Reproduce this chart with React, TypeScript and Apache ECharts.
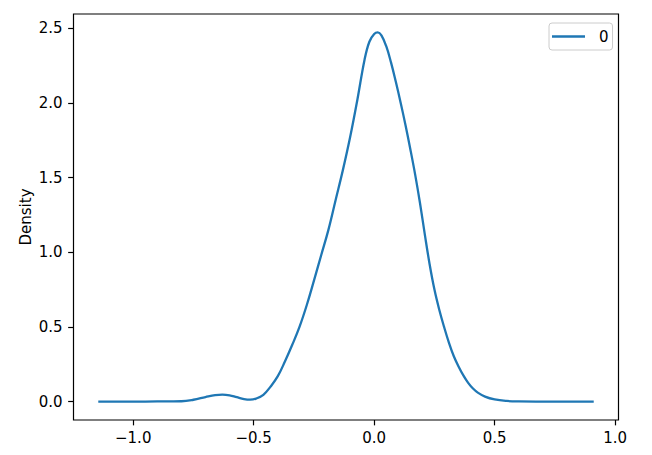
import React, { useEffect, useRef } from "react";
import * as echarts from "echarts";

const seriesName = "0";
const xValues = [
  -1.145, -1.0, -0.9, -0.8, -0.75, -0.7, -0.66, -0.63, -0.6, -0.57, -0.54, -0.515, -0.49, -0.46,
  -0.43, -0.4, -0.37, -0.34, -0.31, -0.28, -0.25, -0.22, -0.19, -0.16, -0.13, -0.1, -0.07, -0.04,
  -0.02, 0.0, 0.015, 0.03, 0.05, 0.07, 0.09, 0.11, 0.13, 0.15, 0.17, 0.19, 0.21, 0.23, 0.25, 0.27,
  0.29, 0.31, 0.33, 0.35, 0.37, 0.39, 0.41, 0.43, 0.46, 0.5, 0.55, 0.6, 0.7, 0.8, 0.911,
];
const densityValues = [
  0, 0, 0.0005, 0.002, 0.012, 0.03, 0.043, 0.047, 0.042, 0.029, 0.017, 0.013, 0.02, 0.045,
  0.1, 0.17, 0.27, 0.38, 0.5, 0.645, 0.81, 0.98, 1.15, 1.35, 1.55, 1.77, 2.02, 2.29,
  2.41, 2.462, 2.472, 2.452, 2.38, 2.27, 2.14, 2.0, 1.85, 1.69, 1.52, 1.33, 1.12, 0.92, 0.75, 0.615,
  0.5, 0.395, 0.305, 0.235, 0.175, 0.125, 0.087, 0.06, 0.033, 0.014, 0.004, 0.001, 0, 0, 0,
];
const xTicks = [-1.0, -0.5, 0.0, 0.5, 1.0];
const yTicks = [0.0, 0.5, 1.0, 1.5, 2.0, 2.5];

const fmt = (v: number) => {
  const s = Math.abs(v).toFixed(1);
  return v < -1e-9 ? "\u2212" + s : s;
};

export default function App() {
  const ref = useRef<HTMLDivElement>(null);
  useEffect(() => {
    if (!ref.current) return;
    const chart = echarts.init(ref.current, null, { renderer: "svg" });
    const font = "DejaVu Sans";
    const tickStyle = { color: "#000", width: 1.2 };
    chart.setOption({
      animation: false,
      grid: {
        left: 73.5,
        right: 33.5,
        top: 14,
        bottom: 35,
        show: true,
        borderColor: "#000",
        borderWidth: 1.2,
        backgroundColor: "#fff",
      },
      legend: {
        left: 549,
        top: 23,
        orient: "horizontal",
        padding: [6, 4, 6, 3],
        itemWidth: 33,
        itemHeight: 2.3,
        icon: "rect",
        itemStyle: { color: "#1f77b4", borderWidth: 0 },
        backgroundColor: "#fff",
        borderColor: "#cccccc",
        borderWidth: 1,
        borderRadius: 3,
        textStyle: { fontFamily: font, fontSize: 15, color: "#000", padding: [0, 0, 0, 9] },
        data: [seriesName],
      },
      xAxis: {
        type: "value",
        min: -1.2478,
        max: 1.0138,
        splitLine: { show: false },
        axisLine: { show: false, onZero: false },
        axisTick: { show: true, length: 5.35, inside: false, customValues: xTicks, lineStyle: tickStyle },
        axisLabel: {
          customValues: xTicks,
          formatter: (v: number) => fmt(v),
          fontFamily: font,
          fontSize: 15,
          color: "#000",
          margin: 10,
        },
      },
      yAxis: {
        type: "value",
        min: -0.1236,
        max: 2.5957,
        name: "Density",
        nameLocation: "middle",
        nameGap: 40.5,
        nameMoveOverlap: false,
        nameTextStyle: { fontFamily: font, fontSize: 15, color: "#000" },
        splitLine: { show: false },
        axisLine: { show: false, onZero: false },
        axisTick: { show: true, length: 5.35, inside: false, customValues: yTicks, lineStyle: tickStyle },
        axisLabel: {
          customValues: yTicks,
          formatter: (v: number) => fmt(v),
          fontFamily: font,
          fontSize: 15,
          color: "#000",
          margin: 11,
        },
      },
      series: [
        {
          name: seriesName,
          type: "line",
          symbol: "none",
          smooth: 0.4,
          lineStyle: { color: "#1f77b4", width: 2.3 },
          itemStyle: { color: "#1f77b4" },
          data: xValues.map((x, i) => [x, densityValues[i]]),
        },
      ],
    });
    return () => chart.dispose();
  }, []);
  return (
    <div
      ref={ref}
      style={{ position: "absolute", left: 0, top: 0, width: 652, height: 455, background: "#fff" }}
    />
  );
}
